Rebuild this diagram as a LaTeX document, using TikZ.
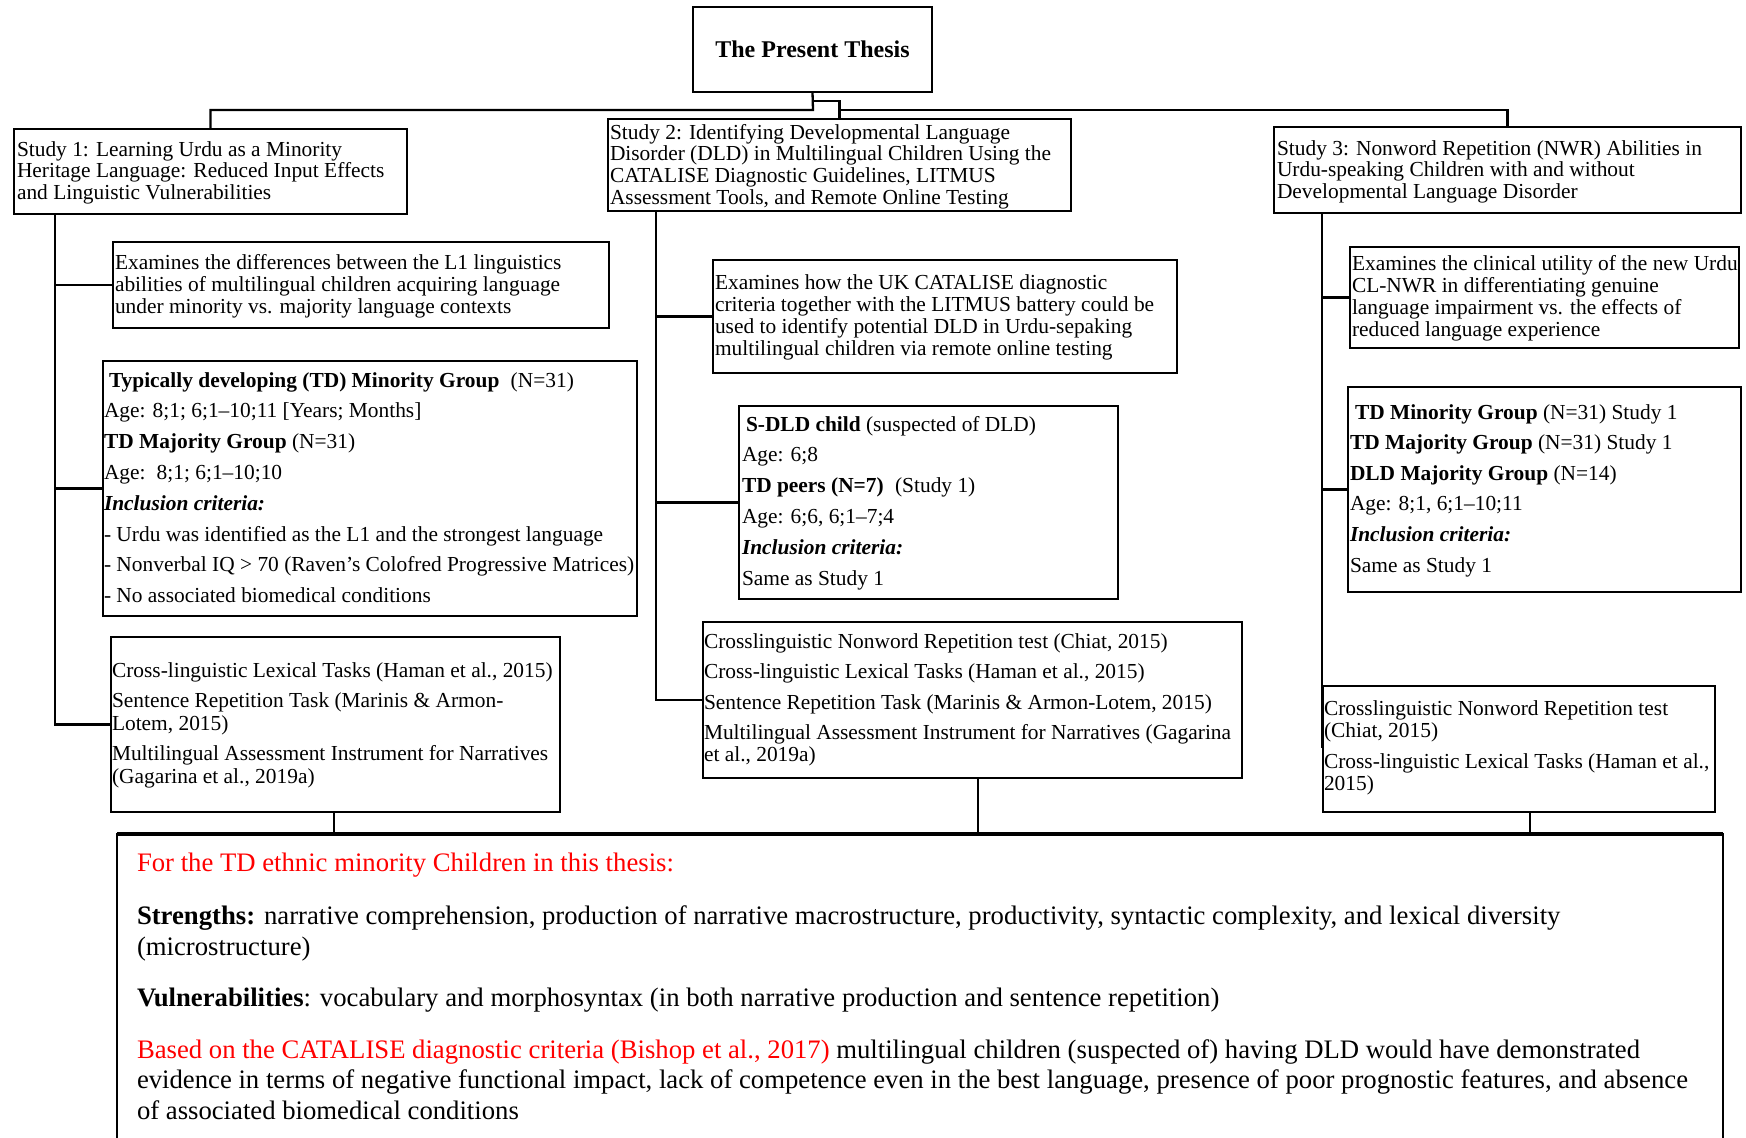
\documentclass[tikz,border=0pt]{standalone}
\usepackage{fontspec}
\setmainfont{Liberation Serif}
\newcommand\stk[2]{\vtop{\baselineskip=#1\lineskiplimit=-100pt\lineskip=0pt\relax #2}}
\newcommand\pgap[1]{\vskip#1\relax}
\newcommand\bi[1]{\textbf{\textit{#1}}}
\begin{document}
\begin{tikzpicture}[x=1pt,y=-1pt,
  box/.style={draw, line width=2.3pt, anchor=north west, inner sep=0pt, outer sep=0pt},
  txt/.style={anchor=base west, inner sep=0pt, outer sep=0pt, font=\fontsize{21.4}{22}\selectfont},
  big/.style={anchor=base west, inner sep=0pt, outer sep=0pt, font=\fontsize{26.7}{31}\selectfont},
  conn/.style={line width=2.3pt},
  thinconn/.style={line width=1.6pt}]
\useasboundingbox (0,0) rectangle (1746,1138);
\clip (0,0) rectangle (1746,1138);

% ---------- boxes ----------
\node[box, minimum width=239, minimum height=85] (title) at (693,7) {};
\node[box, minimum width=393, minimum height=85] (s1) at (14,129) {};
\node[box, minimum width=463, minimum height=92] (s2) at (608,119) {};
\node[box, minimum width=467, minimum height=86] (s3) at (1274,127) {};
\node[box, minimum width=496, minimum height=86] (d1) at (113,242) {};
\node[box, minimum width=534, minimum height=255] (g1) at (103,361) {};
\node[box, minimum width=449, minimum height=175] (t1) at (111,637) {};
\node[box, minimum width=464, minimum height=113] (d2) at (713,260) {};
\node[box, minimum width=379, minimum height=193] (g2) at (739,406) {};
\node[box, minimum width=539, minimum height=156] (t2) at (703,622) {};
\node[box, minimum width=389, minimum height=101] (d3) at (1350,247) {};
\node[box, minimum width=393, minimum height=205] (g3) at (1348,387) {};
\node[box, minimum width=392, minimum height=126] (t3) at (1323,686) {};
\node[box, minimum width=1606, minimum height=400] (bot) at (117,834) {};
\draw[line width=3.6pt] (bot.north west) -- (bot.north east);

% ---------- connectors ----------
\coordinate (hub) at (813,110);
\coordinate (knee) at (813,101);
\draw[conn] (title.south) -- (hub) -| (s1.north);
\draw[conn] (knee) -| (s2.north);
\draw[conn] (s2.north |- hub) -| (s3.north);

\coordinate (x1) at (55,0);
\coordinate (x2) at (656,0);
\coordinate (x3) at (1322,0);
\draw[conn] (x1 |- s1.south) -- (x1 |- t1.west) -- (t1.west);
\draw[conn] (x1 |- d1.west) -- (d1.west);
\draw[conn] (x1 |- g1.west) -- (g1.west);
\draw[conn] (x2 |- s2.south) -- (x2 |- t2.west) -- (t2.west);
\draw[conn] (x2 |- d2.west) -- (d2.west);
\draw[conn] (x2 |- g2.west) -- (g2.west);
\coordinate (e3) at (1322,748);
\draw[conn] (x3 |- s3.south) -- (e3);
\draw[conn] (x3 |- d3.west) -- (d3.west);
\draw[conn] (x3 |- g3.west) -- (g3.west);

\coordinate (b1) at (334,0);
\coordinate (b2) at (978,0);
\coordinate (b3) at (1530,0);
\draw[thinconn] (b1 |- t1.south) -- (b1 |- bot.north);
\draw[thinconn] (b2 |- t2.south) -- (b2 |- bot.north);
\draw[thinconn] (b3 |- t3.south) -- (b3 |- bot.north);

% ---------- texts ----------
\node[font=\fontsize{24}{26}\selectfont\bfseries, inner sep=0pt] (titletxt) at (title.center) {The Present Thesis};

\node[txt] (s1txt) at (17,156) {\stk{21.7pt}{%
\hbox{Study 1: Learning Urdu as a Minority}
\hbox{Heritage Language: Reduced Input Effects}
\hbox{and Linguistic Vulnerabilities}}};

\node[txt] (s2txt) at (610,139) {\stk{21.8pt}{%
\hbox{Study 2: Identifying Developmental Language}
\hbox{Disorder (DLD) in Multilingual Children Using the}
\hbox{CATALISE Diagnostic Guidelines, LITMUS}
\hbox{Assessment Tools, and Remote Online Testing}}};

\node[txt] (s3txt) at (1277,155) {\stk{21.8pt}{%
\hbox{Study 3: Nonword Repetition (NWR) Abilities in}
\hbox{Urdu-speaking Children with and without}
\hbox{Developmental Language Disorder}}};

\node[txt] (d1txt) at (115,269) {\stk{22pt}{%
\hbox{Examines the differences between the L1 linguistics}
\hbox{abilities of multilingual children acquiring language}
\hbox{under minority vs. majority language contexts}}};

\node[txt] (g1txt) at (104,387) {\stk{30.8pt}{%
\hbox{\hspace{5pt}\textbf{Typically developing (TD) Minority Group}\hspace{6pt} (N=31)}
\hbox{Age: 8;1; 6;1--10;11 [Years; Months]}
\hbox{\textbf{TD Majority Group} (N=31)}
\hbox{Age:\hspace{4pt} 8;1; 6;1--10;10}
\hbox{\bi{Inclusion criteria:}}
\hbox{- Urdu was identified as the L1 and the strongest language}
\hbox{- Nonverbal IQ > 70 (Raven’s Colofred Progressive Matrices)}
\hbox{- No associated biomedical conditions}}};

\node[txt] (t1txt) at (112,677) {\stk{22.5pt}{%
\hbox{Cross-linguistic Lexical Tasks (Haman et al., 2015)}
\pgap{8pt}
\hbox{Sentence Repetition Task (Marinis \& Armon-}
\hbox{Lotem, 2015)}
\pgap{8pt}
\hbox{Multilingual Assessment Instrument for Narratives}
\hbox{(Gagarina et al., 2019a)}}};

\node[txt] (d2txt) at (715,289) {\stk{22.2pt}{%
\hbox{Examines how the UK CATALISE diagnostic}
\hbox{criteria together with the LITMUS battery could be}
\hbox{used to identify potential DLD in Urdu-sepaking}
\hbox{multilingual children via remote online testing}}};

\node[txt] (g2txt) at (742,431) {\stk{30.8pt}{%
\hbox{\hspace{4pt}\textbf{S-DLD child} (suspected of DLD)}
\hbox{Age: 6;8}
\hbox{\textbf{TD peers (N=7)}\hspace{6pt} (Study 1)}
\hbox{Age: 6;6, 6;1--7;4}
\hbox{\bi{Inclusion criteria:}}
\hbox{Same as Study 1}}};

\node[txt] (t2txt) at (704,648) {\stk{30.5pt}{%
\hbox{Crosslinguistic Nonword Repetition test (Chiat, 2015)}
\hbox{Cross-linguistic Lexical Tasks (Haman et al., 2015)}
\hbox{Sentence Repetition Task (Marinis \& Armon-Lotem, 2015)}
\hbox{Multilingual Assessment Instrument for Narratives (Gagarina}
\pgap{-8.5pt}
\hbox{et al., 2019a)}}};

\node[txt] (d3txt) at (1352,270) {\stk{22.2pt}{%
\hbox{Examines the clinical utility of the new Urdu}
\hbox{CL-NWR in differentiating genuine}
\hbox{language impairment vs. the effects of}
\hbox{reduced language experience}}};

\node[txt] (g3txt) at (1350,419) {\stk{30.6pt}{%
\hbox{\hspace{5pt}\textbf{TD Minority Group} (N=31) Study 1}
\hbox{\textbf{TD Majority Group} (N=31) Study 1}
\hbox{\textbf{DLD Majority Group} (N=14)}
\hbox{Age: 8;1, 6;1--10;11}
\hbox{\bi{Inclusion criteria:}}
\hbox{Same as Study 1}}};

\node[txt] (t3txt) at (1324,715) {\stk{22pt}{%
\hbox{Crosslinguistic Nonword Repetition test}
\hbox{(Chiat, 2015)}
\pgap{9pt}
\hbox{Cross-linguistic Lexical Tasks (Haman et al.,}
\hbox{2015)}}};

\node[big] (bottxt) at (137,871) {\stk{30.5pt}{%
\hbox{\color{red}For the TD ethnic minority Children in this thesis:}
\pgap{23pt}
\hbox{\textbf{Strengths:} narrative comprehension, production of narrative macrostructure, productivity, syntactic complexity, and lexical diversity}
\hbox{(microstructure)}
\pgap{21pt}
\hbox{\textbf{Vulnerabilities}: vocabulary and morphosyntax (in both narrative production and sentence repetition)}
\pgap{21pt}
\hbox{{\color{red}Based on the CATALISE diagnostic criteria (Bishop et al., 2017)} multilingual children (suspected of) having DLD would have demonstrated}
\hbox{evidence in terms of negative functional impact, lack of competence even in the best language, presence of poor prognostic features, and absence}
\hbox{of associated biomedical conditions}}};
\end{tikzpicture}
\end{document}
